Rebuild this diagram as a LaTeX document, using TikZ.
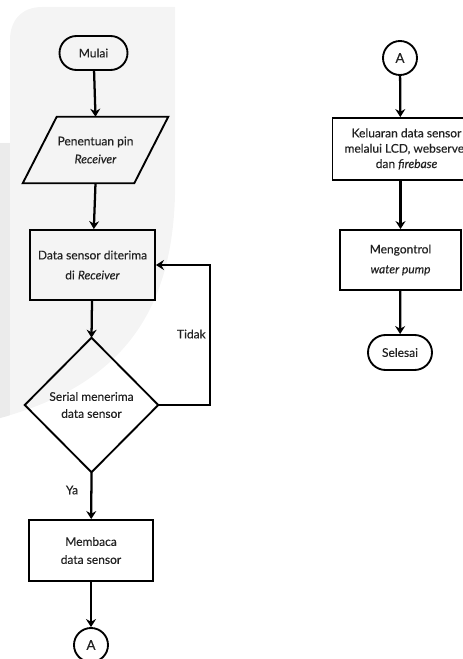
\documentclass[tikz,border=0pt]{standalone}
\usepackage{fontspec}
\setmainfont{Lato}[UprightFeatures={FakeBold=0.25},ItalicFeatures={FakeBold=0.25}]
\usetikzlibrary{arrows.meta,calc,shapes.misc}
\definecolor{bglight}{HTML}{F4F4F4}
\definecolor{bgdark}{HTML}{EBEBEB}
\definecolor{txt}{HTML}{222222}
\begin{document}
\begin{tikzpicture}[x=0.75pt,y=-0.75pt,
  every node/.style={text=txt,font=\fontsize{9}{13}\selectfont,align=center,inner sep=0pt},
  boxst/.style={draw=black,line width=1.4pt,rectangle},
  termst/.style={draw=black,line width=1.4pt,rounded rectangle},
  circst/.style={draw=black,line width=1.4pt,circle,minimum size=25.5pt,font=\fontsize{10}{11}\selectfont},
  ghost/.style={rectangle},
  arr/.style={line width=1.7pt,-{Stealth[length=6pt,width=7.5pt,inset=2pt]}},
  lbl/.style={font=\fontsize{9}{10}\selectfont}]
\useasboundingbox (0,0) rectangle (462,659);
% background watermark
\def\bgpath{(10,40) .. controls (10,20) and (22,7) .. (42,7) -- (175,7) -- (175,170) .. controls (178,290) and (140,380) .. (0,418) -- (0,143) -- (10,143) -- cycle}
\fill[bglight] \bgpath;
\begin{scope}
\clip \bgpath;
\fill[bgdark] (0,143) rectangle (10,420);
\end{scope}
% left column
\node[termst,minimum width=51pt,minimum height=25.5pt] (mulai) at (93.5,53) {Mulai};
\node[ghost,minimum width=108.75pt,minimum height=49.5pt,font=\fontsize{9}{13.5}\selectfont] (pin) at (95.5,150) {Penentuan pin\\\textit{Receiver}};
\draw[line width=1.4pt] ($(pin.north west)+(34,0)$) -- (pin.north east) -- ($(pin.south east)-(34,0)$) -- (pin.south west) -- cycle;
\node[boxst,minimum width=93.75pt,minimum height=52.5pt,font=\fontsize{9}{15}\selectfont] (data) at (92.5,265) {Data sensor diterima\\di \textit{Receiver}};
\node[ghost,minimum width=99.75pt,minimum height=100.5pt,font=\fontsize{9}{12.75}\selectfont] (serial) at (91.5,405) {Serial menerima\\data sensor};
\draw[line width=1.4pt] (serial.north) -- (serial.east) -- (serial.south) -- (serial.west) -- cycle;
\node[boxst,minimum width=93pt,minimum height=45.75pt,font=\fontsize{9}{13.5}\selectfont] (baca) at (91,550.5) {Membaca\\data sensor};
\node[circst] (a1) at (91,645) {A};
% right column
\node[circst] (a2) at (400,58) {A};
\node[boxst,minimum width=90.75pt,minimum height=46.5pt,font=\fontsize{9}{11.5}\selectfont] (kel) at (400.5,149) {\hspace*{9pt}Keluaran data sensor\\\hspace*{9pt}melalui LCD, webserver\\\hspace*{9pt}dan \textit{firebase}};
\node[boxst,minimum width=90.75pt,minimum height=45pt,font=\fontsize{9}{15}\selectfont] (kontrol) at (400.5,260) {Mengontrol\\\textit{water pump}};
\node[termst,minimum width=48pt,minimum height=26.25pt] (selesai) at (400,352.5) {Selesai};
% connectors
\draw[arr] (mulai) -- (pin.north);
\draw[arr] (pin.south) -- (data);
\draw[arr] (data) -- (serial.north);
\draw[arr] (serial.east) -- ++(52,0) |- (data.east);
\draw[arr] (serial.south) -- (baca);
\draw[arr] (baca) -- (a1);
\draw[arr] (a2) -- (kel);
\draw[arr] (kel) -- (kontrol);
\draw[arr] (kontrol) -- (selesai);
% labels
\node[lbl,anchor=east] (tidak) at (206,334) {Tidak};
\node[lbl] (ya) at (72,490) {Ya};
\end{tikzpicture}
\end{document}
